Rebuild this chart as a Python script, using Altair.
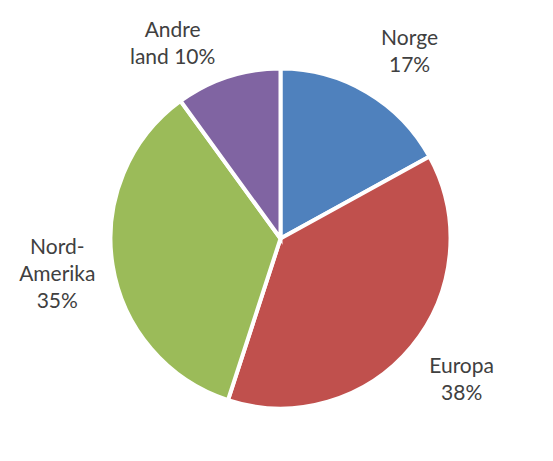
import altair as alt
import pandas as pd

categories = ["Norge", "Europa", "Nord-Amerika", "Andre land"]
shares = [17, 38, 35, 10]
labels = [["Norge", "17%"], ["Europa", "38%"], ["Nord-", "Amerika", "35%"], ["Andre", "land 10%"]]
colors = ["#4F81BD", "#C0504D", "#9BBB59", "#8064A2"]

df = pd.DataFrame({
    "kategori": categories,
    "andel": shares,
    "order": list(range(len(categories))),
    "label": labels,
})

# small label nudges (px) relative to the slice mid-angle position
nudge_x = {"Norge": 14, "Europa": 7, "Nord-Amerika": 0, "Andre land": -38}
nudge_y = {"Norge": -5, "Europa": -16, "Nord-Amerika": -26, "Andre land": 7}


def nudge_expr(d):
    parts = " : ".join(f"datum.kategori == '{k}' ? {v}" for k, v in d.items())
    return parts + " : 0"


base = alt.Chart(df).encode(
    theta=alt.Theta("andel:Q", stack=True),
    order=alt.Order("order:Q"),
)

pie = base.mark_arc(outerRadius=170, stroke="white", strokeWidth=4).encode(
    color=alt.Color("kategori:N", scale=alt.Scale(domain=categories, range=colors), legend=None)
)

text = base.mark_text(
    radius=226, font="Lato", fontSize=21, color="#404040", lineHeight=27,
    dx=alt.expr(nudge_expr(nudge_x)), dy=alt.expr(nudge_expr(nudge_y)),
).encode(text="label")

chart = (pie + text).properties(
    width=529, height=429,
    padding={"left": 8, "top": 16, "right": 0, "bottom": 0},
    autosize=alt.AutoSizeParams(type="none"),
).configure_view(stroke=None)

chart.save("out.html", embed_options={"renderer": "svg", "actions": False})
